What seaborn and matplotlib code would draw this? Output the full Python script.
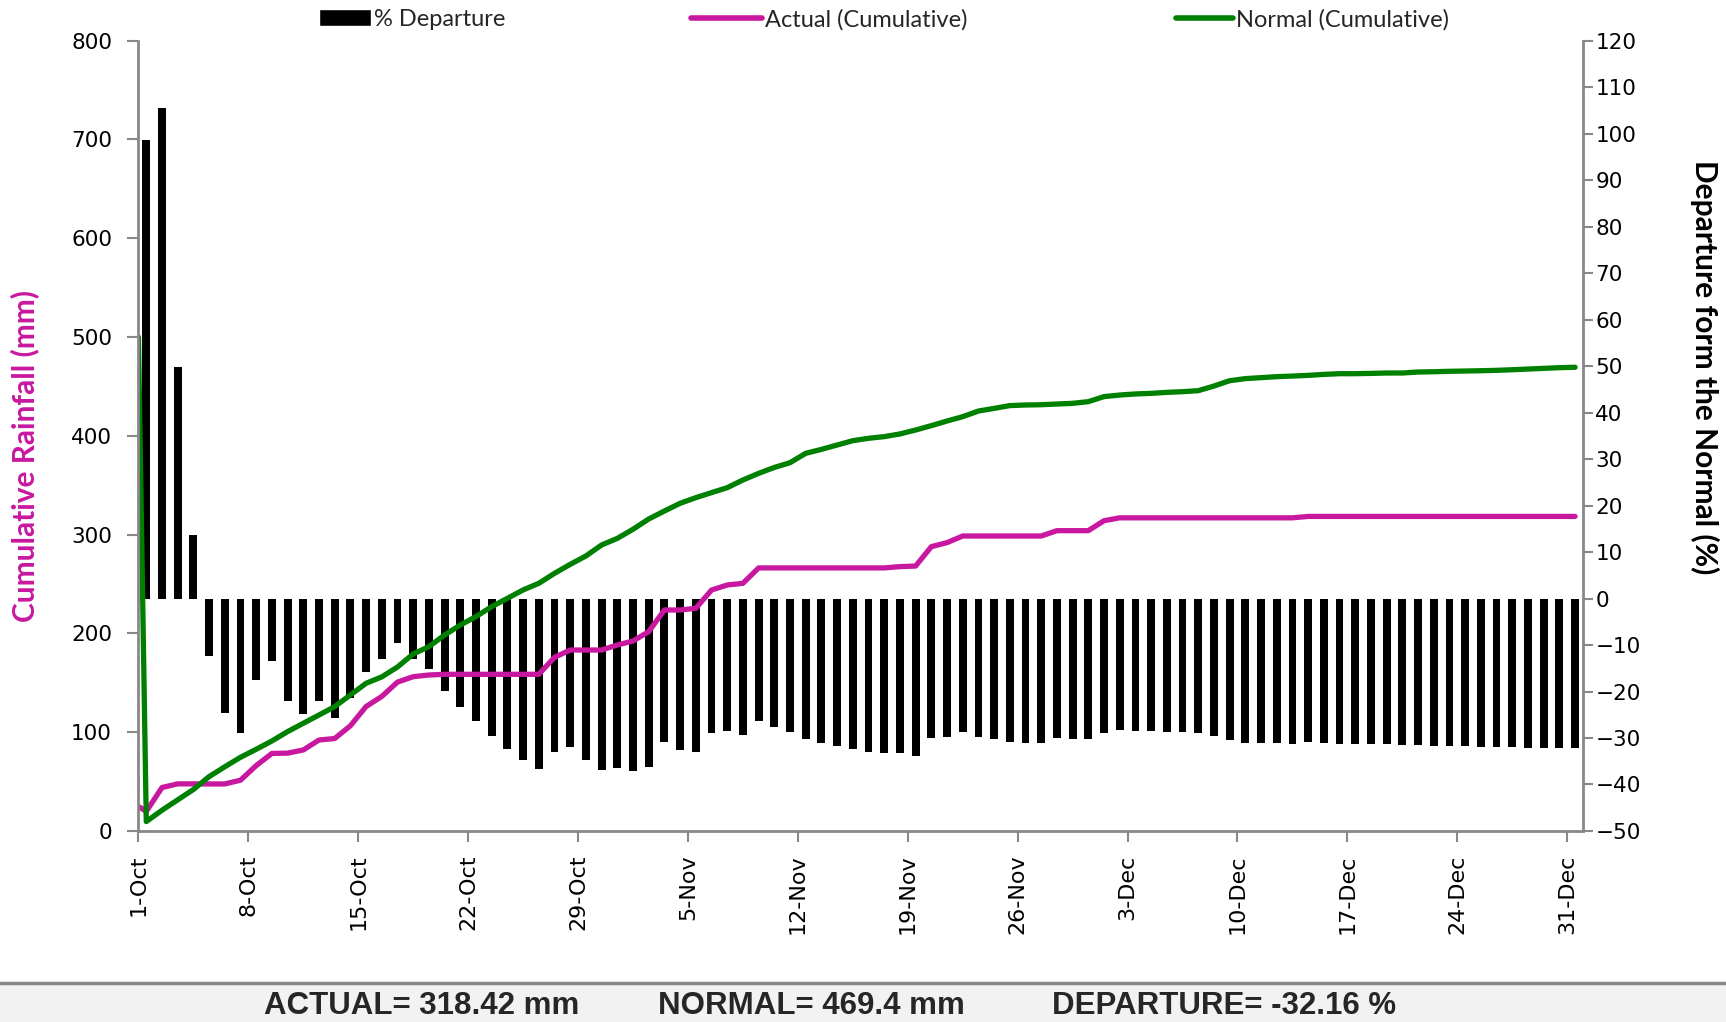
import numpy as np
import pandas as pd
import matplotlib
matplotlib.use("Agg")
import matplotlib.pyplot as plt
import matplotlib.dates as mdates
import seaborn as sns
from matplotlib.patches import Patch, Rectangle
from matplotlib.lines import Line2D

# ---- data (1-Oct .. 31-Dec, 92 days) ----
days = pd.date_range("2019-10-01", "2019-12-31", freq="D")

departure_pct = [
    98.7, 105.5, 49.8, 13.6, -12.4, -24.6, -29.0, -17.5, -13.4, -22.1,
    -24.8, -22.1, -25.6, -21.5, -15.7, -13.0, -9.5, -12.9, -15.2, -19.9,
    -23.3, -26.4, -29.6, -32.4, -34.7, -36.7, -33.0, -31.9, -34.7, -36.9,
    -36.5, -37.1, -36.3, -30.9, -32.6, -33.0, -28.9, -28.5, -29.4, -26.4,
    -27.6, -28.7, -30.2, -31.1, -31.7, -32.4, -33.0, -33.2, -33.2, -33.9,
    -30.0, -29.8, -28.7, -29.8, -30.2, -30.9, -31.1, -31.1, -30.0, -30.2,
    -30.2, -28.9, -28.3, -28.5, -28.5, -28.7, -28.7, -28.9, -29.6, -30.5,
    -31.1, -31.1, -31.1, -31.3, -30.9, -31.1, -31.3, -31.3, -31.3, -31.3,
    -31.5, -31.5, -31.7, -31.7, -31.7, -31.9, -31.9, -31.9, -32.2, -32.2,
    -32.2, -32.16,
]

actual_cum = [
    19.8, 44.0, 47.7, 47.7, 47.6, 47.6, 51.4, 66.2, 78.5, 78.8,
    82.0, 92.1, 93.6, 106.5, 126.0, 136.2, 150.7, 156.2, 157.9, 158.6,
    158.6, 158.6, 158.6, 158.6, 158.6, 158.6, 175.8, 183.2, 183.2, 183.2,
    188.3, 192.3, 201.8, 223.7, 223.7, 225.4, 243.9, 249.0, 250.7, 266.3,
    266.3, 266.3, 266.3, 266.3, 266.3, 266.3, 266.3, 266.3, 267.6, 268.2,
    287.8, 291.9, 298.6, 298.6, 298.6, 298.6, 298.6, 298.6, 304.0, 304.0,
    304.0, 314.1, 317.0, 317.0, 317.0, 317.0, 317.0, 317.0, 317.0, 317.0,
    317.0, 317.0, 317.0, 317.0, 318.42, 318.42, 318.42, 318.42, 318.42, 318.42,
    318.42, 318.42, 318.42, 318.42, 318.42, 318.42, 318.42, 318.42, 318.42, 318.42,
    318.42, 318.42,
]

normal_cum = [
    9.5, 21.0, 31.5, 42.0, 55.0, 65.0, 74.6, 82.7, 91.1, 100.6,
    109.0, 117.4, 125.9, 137.7, 149.5, 156.0, 166.0, 179.2, 186.6, 198.4,
    208.5, 217.0, 227.1, 235.5, 244.0, 250.7, 260.8, 269.9, 278.4, 289.5,
    296.2, 305.4, 315.8, 323.9, 331.7, 337.4, 342.5, 347.5, 355.3, 362.0,
    368.0, 372.8, 382.3, 386.3, 390.7, 395.1, 397.5, 399.2, 401.9, 405.9,
    410.3, 415.0, 419.4, 425.1, 427.8, 430.6, 431.2, 431.5, 432.2, 432.9,
    434.6, 439.7, 441.3, 442.4, 443.0, 444.0, 444.7, 445.7, 450.4, 455.8,
    457.9, 458.9, 459.9, 460.5, 461.2, 462.2, 462.9, 462.9, 463.2, 463.6,
    463.6, 464.6, 464.9, 465.3, 465.6, 465.9, 466.3, 466.9, 467.6, 468.3,
    469.0, 469.4,
]

# odd leading point each series has at the left edge of the plot
actual_lead = 24.9
normal_lead = 500.0

total_actual = 318.42
total_normal = 469.4
total_departure = -32.16

MAGENTA = "#C8189F"
GREEN = "#008000"
GREY = "#888888"

sns.set_style("white")
plt.rcParams["font.family"] = ["DejaVu Sans"]

fig = plt.figure(figsize=(17.26, 10.22), dpi=100)
ax = fig.add_axes([0.0802, 0.1869, 0.8369, 0.7733])
ax2 = ax.twinx()

# bars on the right axis, centred in each day (date numbers, width in days)
day_num = mdates.date2num(days.to_pydatetime())
bar_x = day_num + 0.5
ax2.bar(bar_x, departure_pct, width=0.5, color="black", linewidth=0, zorder=2)

# lines on the left axis (drawn above the bars)
line_x = np.concatenate([[day_num[0]], bar_x])
sns.lineplot(x=line_x, y=[actual_lead] + actual_cum, ax=ax, color=MAGENTA,
             linewidth=3.8, sort=False, legend=False)
sns.lineplot(x=line_x, y=[normal_lead] + normal_cum, ax=ax, color=GREEN,
             linewidth=3.8, sort=False, legend=False)
for ln in ax.lines:
    ln.set_solid_joinstyle("round")
    ln.set_solid_capstyle("round")
ax.set_zorder(ax2.get_zorder() + 1)
ax.patch.set_visible(False)

ax.set_xlim(day_num[0], day_num[-1] + 1)
ax.set_ylim(0, 800)
ax.set_yticks(np.arange(0, 801, 100))
ax2.set_ylim(-50, 120)
ax2.set_yticks(np.arange(-50, 121, 10))

tick_days = days[::7]
ax.set_xticks(day_num[::7])
ax.set_xticklabels([f"{d.day}-{d:%b}" for d in tick_days], rotation=90)

for a in (ax, ax2):
    a.spines["top"].set_visible(False)
    for s in a.spines.values():
        s.set_color(GREY)
        s.set_linewidth(2)
ax.spines["right"].set_visible(False)
ax2.spines["left"].set_visible(False)
ax2.spines["bottom"].set_visible(False)

ax.tick_params(axis="y", direction="out", length=8, width=1.5, color=GREY,
               labelsize=15.5, labelcolor="black", pad=11, left=True)
ax.tick_params(axis="x", direction="out", length=8, width=1.5, color=GREY,
               labelsize=16, labelcolor="black", pad=9, bottom=True)
ax2.tick_params(axis="y", direction="out", length=7, width=1.5, color=GREY,
                labelsize=15.5, labelcolor="black", pad=2, right=True)

ax.set_ylabel("Cumulative Rainfall (mm)", color=MAGENTA, fontsize=21.5,
              fontweight="bold", family="Lato", va="center")
ax.yaxis.set_label_coords(-0.079, 0.475)
ax2.set_ylabel("Departure form the Normal (%)", color="black", fontsize=21.5,
               fontweight="bold", family="Lato", rotation=-90, va="center")
ax2.yaxis.set_label_coords(1.084, 0.587)

# three separate legend entries, placed where the reference has them
legend_items = [
    (Patch(facecolor="black"), "% Departure", 319 / 1726, 2.2),
    (Line2D([], [], color=MAGENTA, lw=4), "Actual (Cumulative)", 691 / 1726, 3.0),
    (Line2D([], [], color=GREEN, lw=4), "Normal (Cumulative)", 1176 / 1726, 2.4),
]
for h, lab, x0, hl in legend_items:
    fig.legend([h], [lab], loc="center left", bbox_to_anchor=(x0, 0.981),
               frameon=False, prop={"family": "Lato", "size": 17},
               handlelength=hl, handletextpad=0.15, borderpad=0,
               borderaxespad=0)

# footer band with totals
fig.patches.append(Rectangle((0, 0), 1, 0.038, transform=fig.transFigure,
                             facecolor="#f2f2f2", edgecolor="none", zorder=0))
fig.add_artist(Line2D([0, 1], [0.038, 0.038], transform=fig.transFigure,
                      color=GREY, lw=2.5))
foot = dict(ha="center", va="center", fontsize=22.5, fontweight="bold",
            family="Liberation Sans")
fig.text(421.5 / 1726, 0.016, f"ACTUAL= {total_actual} mm", **foot)
fig.text(811 / 1726, 0.016, f"NORMAL= {total_normal} mm", **foot)
fig.text(1224 / 1726, 0.016, f"DEPARTURE= {total_departure} %", **foot)

fig.savefig("out.png", dpi=100)
